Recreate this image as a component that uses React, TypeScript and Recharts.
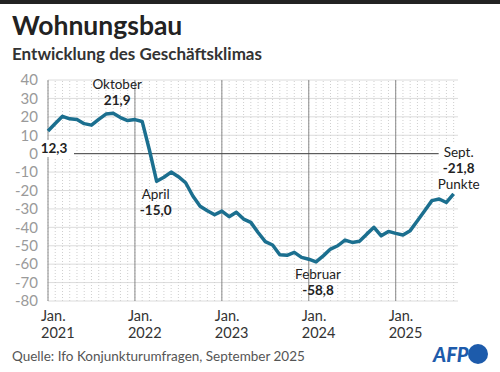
import { LineChart, Line, XAxis, YAxis, CartesianGrid, ReferenceLine, ReferenceDot } from 'recharts'

// ifo Geschäftsklima Wohnungsbau, Jan. 2021 – Sept. 2025 (Punkte)
const klima = [
  12.3, 16.4, 20.3, 18.9, 18.6, 16.3, 15.5, 18.6, 21.5, 21.9, 19.6, 18.0,
  18.5, 17.5, 2.0, -15.0, -12.8, -10.0, -12.5, -15.8, -23.0, -28.5, -31.0, -33.2,
  -31.2, -34.2, -31.8, -35.5, -37.3, -42.8, -47.8, -49.6, -54.9, -55.2, -53.6, -56.3,
  -57.3, -58.8, -55.5, -51.8, -50.0, -46.9, -48.2, -47.6, -43.7, -40.0, -44.6, -42.2,
  -43.3, -44.2, -41.8, -36.4, -31.0, -25.5, -24.6, -26.5, -21.8,
]
const jahre = ['2021', '2022', '2023', '2024', '2025']
const yTicks = [40, 30, 20, 10, 0, -10, -20, -30, -40, -50, -60, -70, -80]

// annotated points: month index, lines of text (bold flag), offsets
const notizen = [
  { i: 0, lines: [['12,3', true]], dx: 6, dy: [22], box: true },
  { i: 9, lines: [['Oktober', false], ['21,9', true]], dx: 4, dy: [-24, -8] },
  { i: 15, lines: [['April', false], ['-15,0', true]], dx: -1, dy: [18, 34] },
  { i: 37, lines: [['Februar', false], ['-58,8', true]], dx: 2, dy: [17, 33] },
  { i: 56, lines: [['Sept.', false], ['-21,8', true], ['Punkte', false]], dx: 5, dy: [-37, -21, -5], box: true },
] as const

const data = klima.map((v, i) => ({ i, v }))
const FONT = 'Lato, "Noto Sans", sans-serif'
const LINE = '#1b6f8f'

function JahrTick({ x, y, payload }: any) {
  const j = jahre[Math.round(payload.value / 12)]
  return (
    <text x={x - 7} y={y + 12} fontFamily={FONT} fontSize={14.5} fill="#333">
      <tspan x={x - 7}>Jan.</tspan>
      <tspan x={x - 7} dy={17}>{j}</tspan>
    </text>
  )
}

function Notiz({ cx, cy, n }: any) {
  if (cx == null || cy == null) return null
  const x = cx + n.dx
  return (
    <g>
      {n.box && (
        <rect x={x - 20} y={cy + n.dy[0] - 13} width={40} height={n.dy.length * 16 + 1} fill="#fff" />
      )}
      <text x={x} y={cy + n.dy[0]} fontFamily={FONT} textAnchor="middle" fontSize={13.5} fill="#222">
        {n.lines.map((l: any, k: number) => (
          <tspan key={k} x={x} dy={k === 0 ? 0 : n.dy[k] - n.dy[k - 1]} fontWeight={l[1] ? 700 : 400}>
            {l[0]}
          </tspan>
        ))}
      </text>
    </g>
  )
}

export default function App() {
  return (
    <div style={{ position: 'fixed', left: 0, top: 0, width: 500, height: 372, background: '#fff', overflow: 'hidden' }}>
      <LineChart width={500} height={372} data={data} margin={{ top: 80, right: 42, bottom: 31, left: 0 }}>
        <CartesianGrid vertical={false} stroke="#dcdcdc" />
        <XAxis
          dataKey="i"
          type="number"
          domain={[0, 56.6]}
          ticks={[0, 12, 24, 36, 48]}
          tick={<JahrTick />}
          axisLine={false}
          tickLine={false}
          height={40}
          allowDecimals
        />
        <YAxis
          domain={[-80, 40]}
          ticks={yTicks}
          interval={0}
          width={48}
          axisLine={false}
          tickLine={false}
          tickSize={0}
          tickMargin={10}
          tick={{ fill: '#9a9a9a', fontSize: 15, fontFamily: FONT }}
        />
        {data.map((d) => (
          <ReferenceLine key={'m' + d.i} x={d.i} stroke="#cfcfcf" strokeDasharray="1 2" />
        ))}
        {[0, 12, 24, 36, 48].map((m) => (
          <ReferenceLine key={'j' + m} x={m} stroke="#8a8a8a" />
        ))}
        <ReferenceLine y={0} stroke="#444" />
        <Line
          dataKey="v"
          stroke={LINE}
          strokeWidth={3.5}
          dot={false}
          strokeLinejoin="round"
          isAnimationActive={false}
        />
        {notizen.map((n) => (
          <ReferenceDot
            key={'n' + n.i}
            x={n.i}
            y={klima[n.i]}
            r={0}
            shape={(p: any) => <Notiz cx={p.cx} cy={p.cy} n={n} />}
          />
        ))}
      </LineChart>
      <svg width={500} height={372} style={{ position: 'absolute', left: 0, top: 0, pointerEvents: 'none' }}>
        <rect x={0} y={0} width={500} height={4} fill="#222" />
        <text x={12} y={35} fontFamily={FONT} fontSize={26.5} fontWeight={700} fill="#222">
          Wohnungsbau
        </text>
        <text x={12} y={60} fontFamily={FONT} fontSize={17} fontWeight={700} fill="#333">
          Entwicklung des Geschäftsklimas
        </text>
        <text x={12} y={361} fontFamily={FONT} fontSize={13.5} fill="#555">
          Quelle: Ifo Konjunkturumfragen, September 2025
        </text>
        <text x={433} y={362} fontFamily={FONT} fontSize={20} fontWeight={900} fontStyle="italic" fill="#1d5bab">
          AFP
        </text>
        <circle cx={478} cy={354} r={10} fill="#1d5bab" />
      </svg>
    </div>
  )
}
